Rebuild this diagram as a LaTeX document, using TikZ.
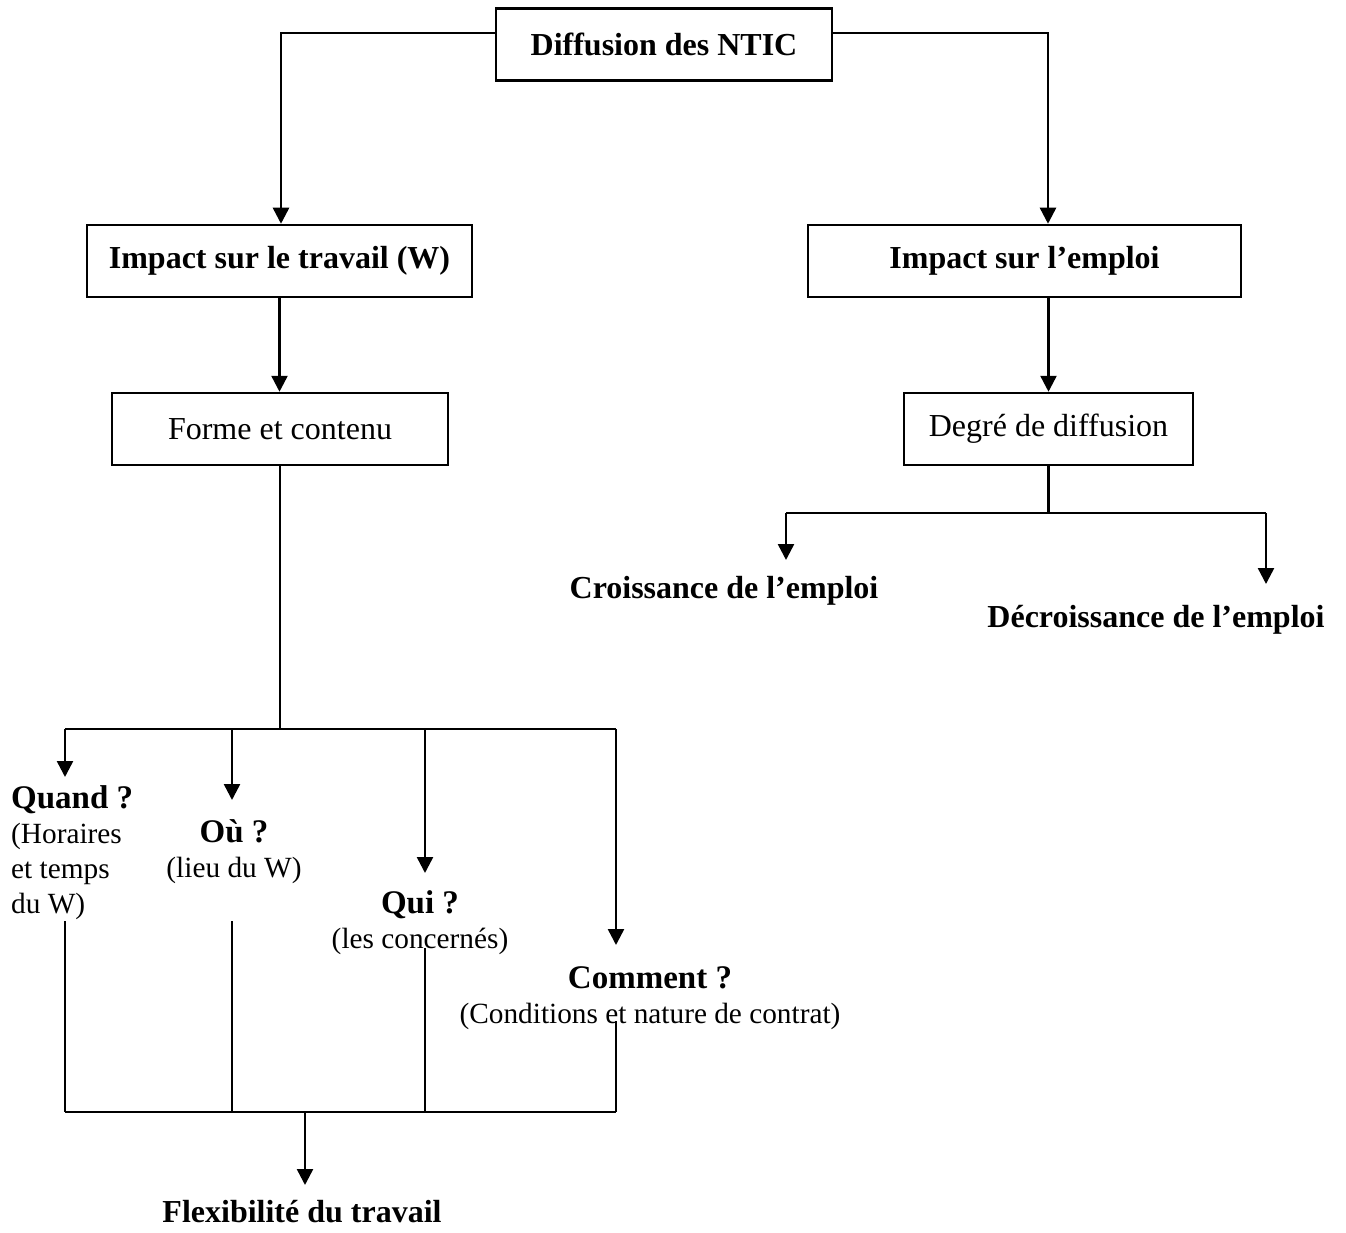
\documentclass[tikz,border=0pt]{standalone}
\usepackage{fontspec}
\setmainfont{Liberation Serif}
\usetikzlibrary{arrows.meta}
% question headings and their explanations in the lower labels
\newcommand\qhead[1]{{\fontsize{33}{35}\selectfont\bfseries #1}}
\newcommand\qnote[1]{{\fontsize{29.3}{35}\selectfont #1}}
\begin{document}
\begin{tikzpicture}[x=1pt,y=-1pt,
  every node/.style={font=\fontsize{32}{35}\selectfont, inner sep=0pt},
  title/.style={font=\fontsize{32}{35}\selectfont\bfseries},
  box/.style={draw, line width=2.5pt, minimum height=72pt},
  link/.style={line width=2.5pt},
  fine/.style={line width=1.8pt},
  arr/.style={line width=2.5pt, -{Triangle[length=16pt,width=16pt]}},
]
\useasboundingbox (0,0) rectangle (1346,1233);

% boxes
\node[box, title, minimum width=336pt] (ntic) at (664,44.5) {Diffusion des NTIC};
\node[box, title, minimum width=385pt] (travail) at (279.5,261) {Impact sur le travail (W)};
\node[box, title, minimum width=433pt] (emploi) at (1024.5,261) {Impact sur l’emploi};
\node[box, minimum width=336pt] (forme) at (280,429) {Forme et contenu};
\node[box, minimum width=289pt] (degre) at (1048.5,429) {Degré de diffusion};

% free labels
\node[title, anchor=base] (croiss) at (724,598) {Croissance de l’emploi};
\node[title, anchor=base] (decroiss) at (1156,627) {Décroissance de l’emploi};
\node[anchor=base west] (quand) at (11,808)
  {\begin{tabular}[t]{@{}l@{}}\qhead{Quand ?}\\\qnote{(Horaires}\\\qnote{et temps}\\\qnote{du W)}\end{tabular}};
\node[anchor=base] (ou) at (234,842)
  {\begin{tabular}[t]{@{}c@{}}\qhead{Où ?}\\\qnote{(lieu du W)}\end{tabular}};
\node[anchor=base] (qui) at (420,913)
  {\begin{tabular}[t]{@{}c@{}}\qhead{Qui ?}\\\qnote{(les concernés)}\end{tabular}};
\node[anchor=base] (comment) at (650,988)
  {\begin{tabular}[t]{@{}c@{}}\qhead{Comment ?}\\\qnote{(Conditions et nature de contrat)}\end{tabular}};
\node[title, anchor=base] (flex) at (302,1222) {Flexibilité du travail};

% top split
\coordinate (tl) at (281,33);
\coordinate (tr) at (1048,33);
\draw[arr] (ntic.west |- tl) -- (tl) -- (tl |- travail.north);
\draw[arr] (ntic.east |- tr) -- (tr) -- (tr |- emploi.north);

% second level
\draw[arr] (travail.south) -- (travail.south |- forme.north);
\draw[arr] (degre.north |- emploi.south) -- (degre.north);

% employment branch
\coordinate (rs) at (1048.5,513);
\coordinate (rsl) at (786,513);
\coordinate (rsr) at (1266,513);
\coordinate (tipC) at (786,560);
\coordinate (tipD) at (1266,584);
\draw[link] (degre.south) -- (rs);
\draw[link] (rsl) -- (rsr);
\draw[arr] (rsl) -- (tipC);
\draw[arr] (rsr) -- (tipD);

% work branch
\coordinate (ls) at (280,729);
\coordinate (lq) at (65,729);
\coordinate (lo) at (232,729);
\coordinate (lw) at (425,729);
\coordinate (lc) at (616,729);
\coordinate (tipQ) at (65,777);
\coordinate (tipO) at (232,800);
\coordinate (tipW) at (425,873);
\coordinate (tipM) at (616,945);
\draw[link] (forme.south) -- (ls);
\draw[link] (lq) -- (lc);
\draw[arr] (lq) -- (tipQ);
\draw[arr] (lo) -- (tipO);
\draw[arr] (lw) -- (tipW);
\draw[arr] (lc) -- (tipM);

% merge into flexibility
\coordinate (bq) at (65,1112);
\coordinate (bo) at (232,1112);
\coordinate (bw) at (425,1112);
\coordinate (bc) at (616,1112);
\coordinate (bm) at (305,1112);
\coordinate (tipF) at (305,1185);
\draw[fine] (65,921) coordinate (sq) -- (bq);
\draw[fine] (232,921) coordinate (so) -- (bo);
\draw[fine] (425,948) coordinate (sw) -- (bw);
\draw[fine] (616,1021) coordinate (sc) -- (bc);
\draw[fine] (bq) -- (bc);
\draw[arr] (bm) -- (tipF);
\end{tikzpicture}
\end{document}
